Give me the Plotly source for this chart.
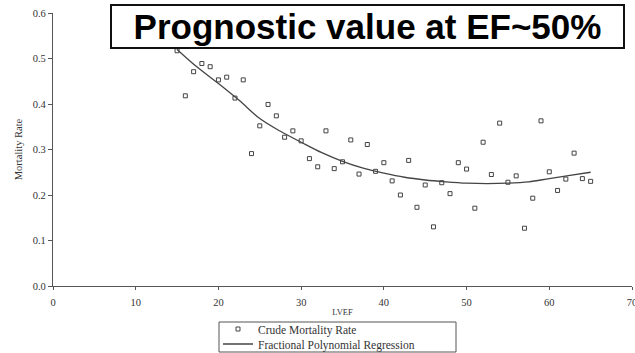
import plotly.graph_objects as go

# Crude mortality rate by LVEF
lvef = list(range(15, 66))
mortality = [0.517, 0.418, 0.471, 0.489, 0.482, 0.453, 0.459, 0.413, 0.453, 0.291,
             0.352, 0.399, 0.374, 0.327, 0.341, 0.319, 0.280, 0.262, 0.341, 0.258,
             0.273, 0.321, 0.246, 0.311, 0.252, 0.271, 0.231, 0.200, 0.276, 0.173,
             0.222, 0.130, 0.227, 0.203, 0.271, 0.257, 0.171, 0.316, 0.245, 0.358,
             0.228, 0.242, 0.127, 0.193, 0.363, 0.251, 0.210, 0.235, 0.292, 0.236,
             0.230]

# Fractional polynomial regression curve
fit_x = [15, 17.5, 20, 22.5, 25, 27.5, 30, 32.5, 35, 37.5, 40, 42.5, 45, 47.5,
         50, 52.5, 55, 57.5, 60, 62.5, 65]
fit_y = [0.520, 0.480, 0.445, 0.408, 0.368, 0.340, 0.316, 0.293, 0.274, 0.259,
         0.248, 0.239, 0.233, 0.229, 0.226, 0.225, 0.226, 0.229, 0.236, 0.243, 0.250]

x_ticks = [0, 10, 20, 30, 40, 50, 60, 70]
y_ticks = [0.0, 0.1, 0.2, 0.3, 0.4, 0.5, 0.6]
y_tick_labels = ["0.0", "0.1", "0.2", "0.3", "0.4", "0.5", "0.6"]

serif = "Liberation Serif, Times New Roman, serif"
W, H = 635, 353
L, R, T, B = 53, 3, 13, 67
PW, PH = W - L - R, H - T - B


def px(xp):
    return (xp - L) / PW


def py(yp):
    return (H - B - yp) / PH


fig = go.Figure()
fig.add_trace(go.Scatter(
    x=lvef, y=mortality, mode="markers", name="Crude Mortality Rate",
    marker=dict(symbol="square-open", size=4, color="#444444", line=dict(width=1)),
    legend="legend",
))
fig.add_trace(go.Scatter(
    x=fit_x, y=fit_y, mode="lines", name="Fractional Polynomial Regression",
    line=dict(color="#444444", width=1.3, shape="spline"),
    legend="legend2",
))

leg_common = dict(xanchor="left", yanchor="middle", bgcolor="rgba(0,0,0,0)",
                  borderwidth=0, font=dict(family=serif, size=11.5, color="#333333"))

fig.update_layout(
    width=W, height=H,
    margin=dict(l=L, r=R, t=T, b=B, autoexpand=False),
    paper_bgcolor="white", plot_bgcolor="white",
    font=dict(family=serif, size=10.5, color="#333333"),
    showlegend=True,
    legend=dict(x=px(218), y=py(329), **leg_common),
    legend2=dict(x=px(218), y=py(344), **leg_common),
    xaxis=dict(range=[0, 70], tickvals=x_ticks, ticks="outside", ticklen=3,
               showline=True, linecolor="#555555", linewidth=1.2, showgrid=False,
               zeroline=False, tickcolor="#555555", automargin=False,
               ticklabelstandoff=3, ticklabeloverflow="allow",
               title=dict(text="LVEF", font=dict(family=serif, size=8.5), standoff=2)),
    yaxis=dict(range=[0, 0.6], tickvals=y_ticks, ticktext=y_tick_labels,
               ticks="outside", ticklen=4, automargin=False,
               showline=True, linecolor="#555555", linewidth=1.2, showgrid=False,
               zeroline=False, tickcolor="#555555",
               title=dict(text="Mortality Rate", font=dict(family=serif, size=10.5), standoff=7)),
    shapes=[dict(type="rect", xref="paper", yref="paper",
                 x0=px(219), x1=px(456), y0=py(322), y1=py(352),
                 line=dict(color="#555555", width=1), fillcolor="rgba(0,0,0,0)")],
    annotations=[dict(
        text="<b>Prognostic value at EF~50%</b>", xref="paper", yref="paper",
        x=px(110), y=py(4), xanchor="left", yanchor="top",
        showarrow=False, width=511, height=41, align="center", valign="middle",
        bgcolor="white", bordercolor="#111111", borderwidth=2, borderpad=0,
        font=dict(family="Liberation Sans, Arial, sans-serif", size=35, color="black"),
    )],
)

fig.write_html("out.html", config={"displayModeBar": False},
               post_script="document.body.style.margin='0';document.body.style.overflow='hidden';")
